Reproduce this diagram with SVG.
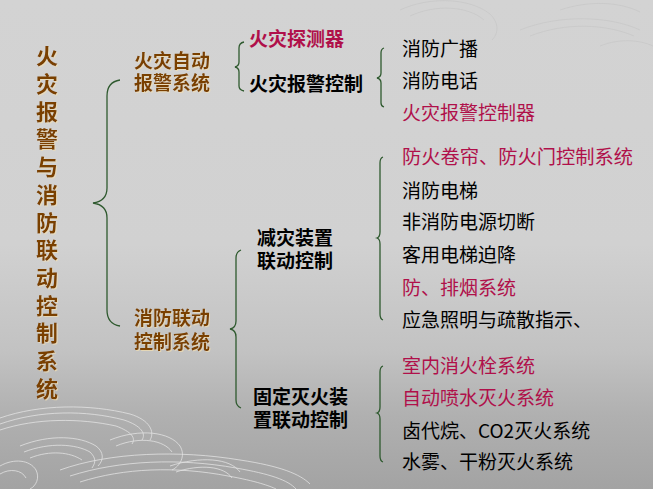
<svg xmlns="http://www.w3.org/2000/svg" width="653" height="489" viewBox="0 0 653 489">
<defs>
<linearGradient id="bg" x1="0" y1="0" x2="0" y2="1">
<stop offset="0" stop-color="#d3d3d3"/>
<stop offset="0.5" stop-color="#d1d1d1"/>
<stop offset="0.72" stop-color="#c2c2c2"/>
<stop offset="0.85" stop-color="#b0b0b0"/>
<stop offset="1" stop-color="#a3a3a3"/>
</linearGradient>
<filter id="sh" x="-20%" y="-20%" width="140%" height="140%">
<feDropShadow dx="1" dy="1" stdDeviation="0.4" flood-color="#f4e0b0" flood-opacity="0.7"/>
</filter>
</defs>
<style>
text{font-family:"Noto Sans CJK SC","Noto Sans CJK JP",sans-serif;}
text.ml{font-family:"Liberation Sans","Noto Sans CJK SC",sans-serif;}
.title{font-size:22px;font-weight:bold;fill:#7a4000;writing-mode:tb;letter-spacing:5.7px;}
.l1{font-size:19px;font-weight:bold;fill:#7a4000;}
.l2{font-size:19px;font-weight:bold;fill:#000;}
.l2r{font-size:19px;font-weight:bold;fill:#b0104a;}
.it{font-size:19px;fill:#000;}
.itr{font-size:19px;fill:#b0104a;}
.brace{fill:none;stroke:#2f5a2f;stroke-width:1.3;}
.wave{fill:none;stroke:#e6e6e6;stroke-width:1;opacity:0.75;}
.wave2{fill:none;stroke:#c4c4c4;stroke-width:1;opacity:0.6;}
</style>
<rect width="653" height="489" fill="url(#bg)"/>
<g id="decoration">
<path class="wave" d="M0,418 C40,404 90,404 130,414 C150,420 155,432 150,440 M0,424 C40,410 86,410 124,420 C142,426 146,434 142,440 M0,430 C36,418 80,418 116,426 C132,432 136,438 132,444"/>
<path class="wave" d="M20,446 C50,434 80,436 96,446 C104,452 104,460 98,466 M24,452 C50,442 76,444 90,452 C96,458 96,462 92,468 M30,458 C50,450 70,452 82,460"/>
<path class="wave" d="M60,470 C110,452 180,450 240,460 C280,466 300,474 310,484 M70,476 C120,460 180,458 236,468 C270,474 288,480 296,489 M80,482 C124,468 176,466 228,476 C256,481 270,486 276,489"/>
<path class="wave" d="M0,466 C14,458 30,460 36,470 C40,478 36,486 30,489 M0,474 C10,468 22,470 26,478 M110,440 C140,428 170,432 180,446 C186,456 180,466 172,470 M116,446 C140,436 164,440 172,452 M170,466 C200,456 230,458 240,472 M176,472 C200,464 224,466 232,478"/>
<path class="wave2" d="M400,10 C430,-4 470,-2 490,14 C500,24 498,34 492,40 M410,16 C436,4 468,6 484,20 M520,30 C560,14 610,16 640,30 M530,36 C566,22 606,24 634,36 M560,10 C590,0 620,2 640,12 M600,46 C620,38 640,40 653,46"/>
</g>
<g id="connectors">
<path class="brace" d="M120,80 Q107,82 107,96 L107,188 Q107,201 93,203 Q107,205 107,218 L107,310 Q107,324 120,326"/>
<path class="brace" d="M244,42 Q239,43 239,48 L239,62 Q239,66 235,67 Q239,68 239,72 L239,86 Q239,90 244,91"/>
<path class="brace" d="M384,48 Q381,49 381,53 L381,73 Q381,77 377,78 Q381,79 381,83 L381,103 Q381,106 384,107"/>
<path class="brace" d="M241,250 Q236,252 236,258 L236,321 Q236,328 230,329 Q236,330 236,337 L236,400 Q236,406 241,408"/>
<path class="brace" d="M383,157 Q380,158 380,163 L380,232 Q380,237 377,238 Q380,239 380,244 L380,314 Q380,319 383,320"/>
<path class="brace" d="M383,366 Q380,367 380,372 L380,407 Q380,412 377,413 Q380,414 380,419 L380,456 Q380,461 383,462"/>
</g>
<g id="title" filter="url(#sh)">
<text class="title" x="47" y="45">火灾报警与消防联动控制系统</text>
</g>
<g id="auto-alarm" filter="url(#sh)">
<text class="l1 ml"><tspan x="134" y="68">火灾自动</tspan><tspan x="134" y="90">报警系统</tspan></text>
</g>
<g id="linkage" filter="url(#sh)">
<text class="l1 ml"><tspan x="134" y="325">消防联动</tspan><tspan x="134" y="349">控制系统</tspan></text>
</g>
<g id="detector"><text class="l2r" x="249" y="46">火灾探测器</text></g>
<g id="alarm-control"><text class="l2" x="249" y="91">火灾报警控制</text></g>
<g id="mitigation">
<text class="l2 ml"><tspan x="257" y="245">减灾装置</tspan><tspan x="257" y="268">联动控制</tspan></text>
</g>
<g id="fixed-ext">
<text class="l2 ml"><tspan x="253" y="404">固定灭火装</tspan><tspan x="253" y="427">置联动控制</tspan></text>
</g>
<g id="alarm-items">
<text class="it" x="402" y="56">消防广播</text>
<text class="it" x="402" y="88">消防电话</text>
<text class="itr" x="402" y="120">火灾报警控制器</text>
</g>
<g id="mitigation-items">
<text class="itr" x="402" y="164" textLength="231" lengthAdjust="spacingAndGlyphs">防火卷帘、防火门控制系统</text>
<text class="it" x="402" y="198">消防电梯</text>
<text class="it" x="402" y="229">非消防电源切断</text>
<text class="it" x="402" y="262">客用电梯迫降</text>
<text class="itr" x="402" y="295">防、排烟系统</text>
<text class="it" x="402" y="327">应急照明与疏散指示、</text>
</g>
<g id="fixed-items">
<text class="itr" x="402" y="373">室内消火栓系统</text>
<text class="itr" x="402" y="405">自动喷水灭火系统</text>
<text class="it" x="402" y="438">卤代烷、CO2灭火系统</text>
<text class="it" x="402" y="469">水雾、干粉灭火系统</text>
</g>
</svg>
